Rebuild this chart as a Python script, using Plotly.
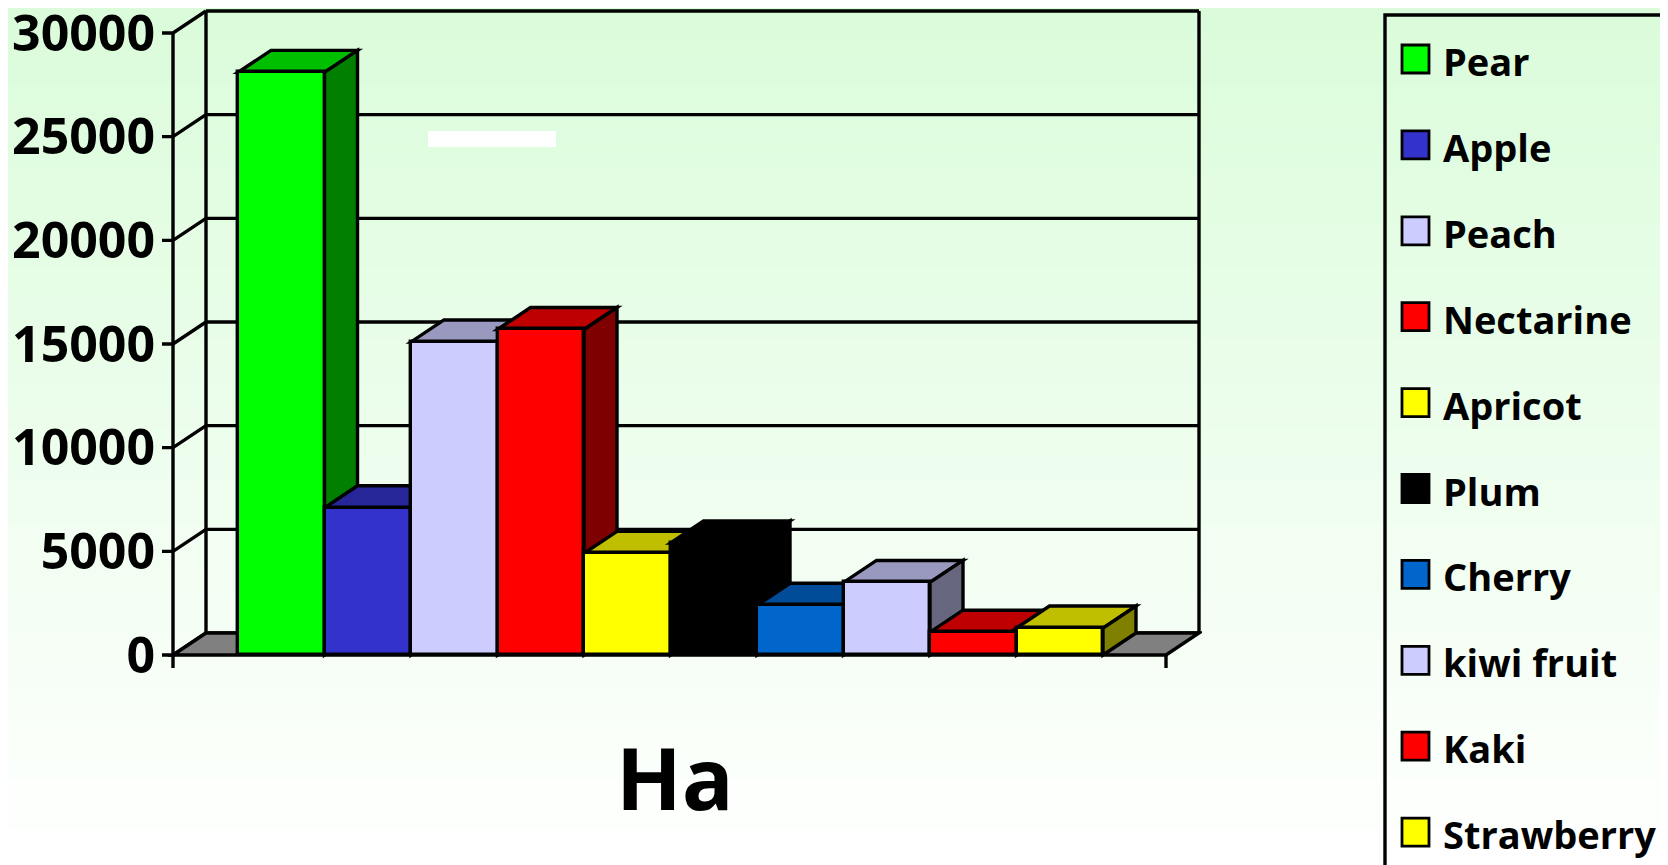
import plotly.graph_objects as go

# ---- data ----
fruits = ["Pear", "Apple", "Peach", "Nectarine", "Apricot",
          "Plum", "Cherry", "kiwi fruit", "Kaki", "Strawberry"]
hectares = [28100, 7100, 15100, 15700, 4900, 5400, 2400, 3500, 1100, 1300]
front_colors = ["#00FF00", "#3333CC", "#CCCCFF", "#FF0000", "#FFFF00",
                "#000000", "#0066CC", "#CCCCFF", "#FF0000", "#FFFF00"]
y_ticks = [0, 5000, 10000, 15000, 20000, 25000, 30000]
y_ticktext = ["0", "5000", "10000", "15000", "20000", "25000", "30000"]
axis_title = "Ha"

# ---- page geometry (pixels on the 1668x865 page) ----
W, H = 1668, 865
PAGE_PAD = 8           # default body margin of the html page
L_PX, R_PX, T_PX, B_PX = 162, 1202, 8, 670   # plot area
ZERO_PX = 655          # pixel row of value 0 on the front axis
FIRST_BAR_PX = 238     # left edge of the first bar
AXIS_PX = 173          # front value axis
FRONT_END_PX = 1166    # right end of the front floor edge
BAR_PX = 86.5          # pixels per category
Y_PX = 622 / 30000     # pixels per unit
DEPTH_X, DEPTH_Y = 33, 22

FONT = "Comic Sans MS, Open Sans, sans-serif"
LINE = dict(color="black", width=3.4)

px_x = lambda px: -0.5 + (px - FIRST_BAR_PX) / BAR_PX      # pixel -> data x
DX = DEPTH_X / BAR_PX
DY = DEPTH_Y / Y_PX
x_left = px_x(AXIS_PX)
x_right = px_x(FRONT_END_PX)
tick_len = 11 / BAR_PX
drop = 13 / Y_PX


def paper_x(px):
    return (px - L_PX) / (R_PX - L_PX)


def paper_y(py):
    return (B_PX - py) / (B_PX - T_PX)


def shade(hex_color, f):
    r, g, b = (int(hex_color[i:i + 2], 16) for i in (1, 3, 5))
    return "#%02X%02X%02X" % (int(r * f), int(g * f), int(b * f))


def poly(pts):
    return "M " + " L ".join(f"{x},{y}" for x, y in pts) + " Z"


shapes = []

# background gradient, light green at the top fading to white
n_bands = 173
for k in range(n_bands):
    t = k / (n_bands - 1)
    c = tuple(int(round(a + (255 - a) * t)) for a in (218, 252, 218))
    shapes.append(dict(
        type="rect", xref="paper", yref="paper", layer="below",
        x0=paper_x(-5), x1=paper_x(W + 5),
        y0=paper_y(k * H / n_bands - 1), y1=paper_y((k + 1) * H / n_bands + 1),
        fillcolor="rgb(%d,%d,%d)" % c, line=dict(width=0),
    ))

# back wall grid and side wall diagonals (with the tick stub on the front axis)
for v in y_ticks:
    shapes.append(dict(type="line", xref="x", yref="y", layer="below",
                       x0=x_left + DX, x1=x_right + DX, y0=v + DY, y1=v + DY,
                       line=LINE))
    shapes.append(dict(type="path", xref="x", yref="y", layer="below",
                       path=f"M {x_left - tick_len},{v} L {x_left},{v} "
                            f"L {x_left + DX},{v + DY}",
                       line=LINE))
for xb in (x_left + DX, x_right + DX):
    shapes.append(dict(type="line", xref="x", yref="y", layer="below",
                       x0=xb, x1=xb, y0=DY, y1=y_ticks[-1] + DY, line=LINE))

# blank white title box
shapes.append(dict(type="rect", xref="paper", yref="paper", layer="below",
                   x0=paper_x(428), x1=paper_x(556),
                   y0=paper_y(147), y1=paper_y(131),
                   fillcolor="white", line=dict(width=0)))

# floor
shapes.append(dict(type="path", xref="x", yref="y", layer="below",
                   path=poly([(x_left, 0), (x_right, 0),
                              (x_right + DX, DY), (x_left + DX, DY)]),
                   fillcolor="#808080", line=LINE))
# front value axis and the end tick of the category axis
shapes.append(dict(type="line", xref="x", yref="y", layer="below",
                   x0=x_left, x1=x_left, y0=-drop, y1=y_ticks[-1], line=LINE))
shapes.append(dict(type="line", xref="x", yref="y", layer="below",
                   x0=x_right, x1=x_right, y0=-drop, y1=0, line=LINE))

# top and side faces of each bar (front faces are the bar trace)
for i, (v, col) in enumerate(zip(hectares, front_colors)):
    x0, x1 = i - 0.5, i + 0.5
    shapes.append(dict(type="path", xref="x", yref="y", layer="below",
                       path=poly([(x0, v), (x1, v), (x1 + DX, v + DY),
                                  (x0 + DX, v + DY)]),
                       fillcolor=shade(col, 0.75), line=LINE))
    shapes.append(dict(type="path", xref="x", yref="y", layer="below",
                       path=poly([(x1, 0), (x1 + DX, DY), (x1 + DX, v + DY),
                                  (x1, v)]),
                       fillcolor=shade(col, 0.5), line=LINE))

fig = go.Figure(go.Bar(
    x=list(range(len(fruits))),
    y=hectares,
    width=1,
    marker=dict(color=front_colors, line=LINE),
    customdata=fruits,
    hovertemplate="%{customdata}: %{y}<extra></extra>",
    showlegend=False,
))

# legend drawn by hand so the swatches match the original size
annotations = []
LEG_TOP, LEG_STEP = 59, 85.9
shapes.append(dict(type="rect", xref="paper", yref="paper",
                   x0=paper_x(1385), x1=paper_x(W + 40),
                   y0=paper_y(H + 40), y1=paper_y(15),
                   line=LINE, fillcolor="rgba(0,0,0,0)"))
for k, (name, col) in enumerate(zip(fruits, front_colors)):
    cy = LEG_TOP + k * LEG_STEP
    shapes.append(dict(type="rect", xref="paper", yref="paper",
                       x0=paper_x(1402), x1=paper_x(1429),
                       y0=paper_y(cy + 14), y1=paper_y(cy - 14),
                       fillcolor=col, line=dict(color="black", width=2.8)))
    annotations.append(dict(
        text=name, xref="paper", yref="paper",
        x=paper_x(1441), y=paper_y(cy + 2),
        xanchor="left", yanchor="middle", showarrow=False,
        font=dict(family=FONT, size=38, color="black", weight="bold"),
    ))

annotations.append(dict(
    text=axis_title, xref="paper", yref="paper",
    x=paper_x(675), y=paper_y(776), xanchor="center", yanchor="middle",
    showarrow=False,
    font=dict(family=FONT, size=86, color="black", weight="bold"),
))

fig.update_layout(
    width=W - PAGE_PAD, height=H - PAGE_PAD,
    margin=dict(l=L_PX - PAGE_PAD, r=W - R_PX,
                t=T_PX - PAGE_PAD, b=H - B_PX, autoexpand=False),
    paper_bgcolor="white",
    plot_bgcolor="rgba(0,0,0,0)",
    shapes=shapes,
    annotations=annotations,
    bargap=0,
    showlegend=False,
    xaxis=dict(visible=False, range=[px_x(L_PX), px_x(R_PX)]),
    yaxis=dict(
        range=[-(B_PX - ZERO_PX) / Y_PX, (ZERO_PX - T_PX) / Y_PX],
        tickvals=y_ticks,
        ticktext=y_ticktext,
        ticks="",
        showgrid=False, zeroline=False, showline=False,
        automargin=False,
        ticklabelstandoff=6,
        ticklabeloverflow="allow",
        tickfont=dict(family=FONT, size=50, color="black", weight="bold"),
    ),
)

fig.write_html("out.html")
